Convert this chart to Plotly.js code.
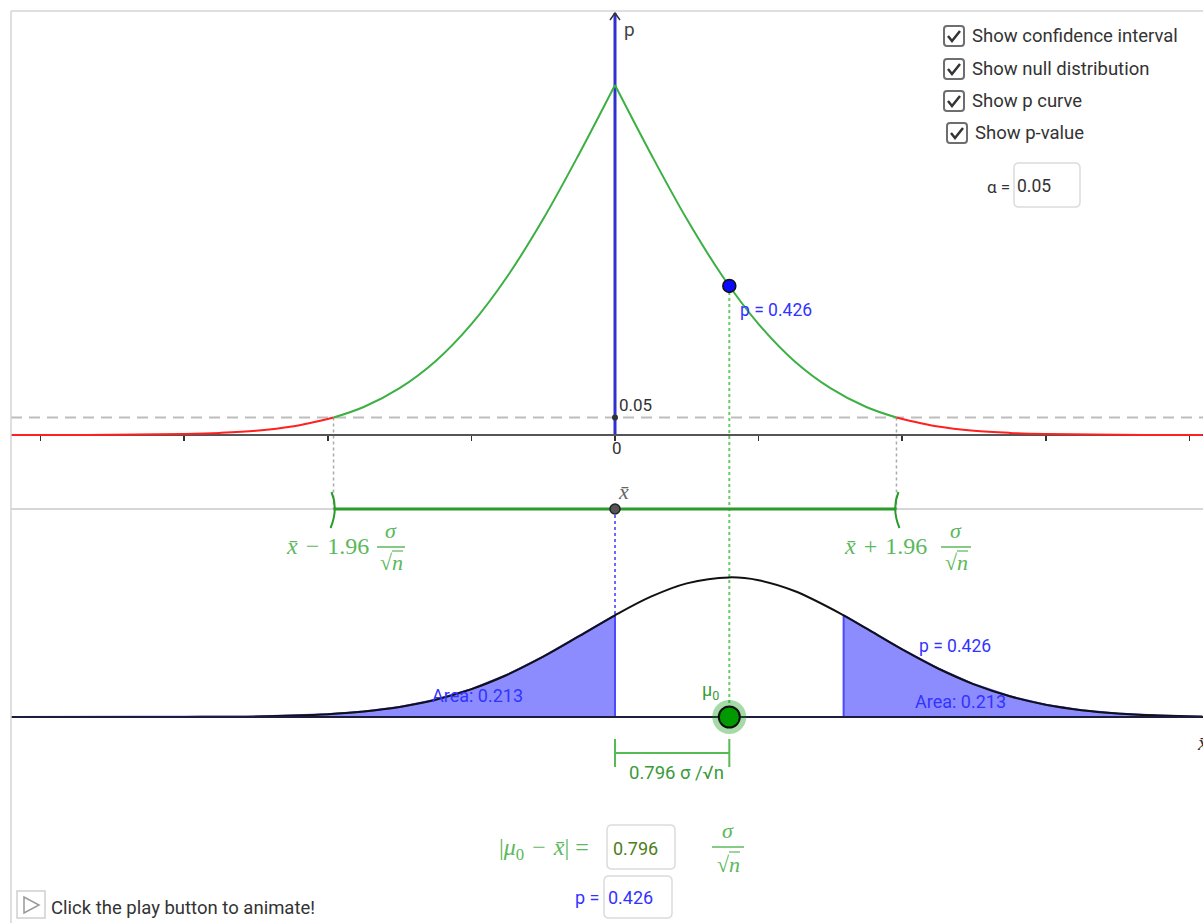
<!DOCTYPE html>
<html>
<head>
<meta charset="utf-8">
<script src="https://cdn.plot.ly/plotly-3.0.1.min.js"></script>
<style>
html, body { margin: 0; padding: 0; background: #fff; }
#chart { width: 1203px; height: 923px; }
</style>
</head>
<body>
<div id="chart"></div>
<script>
var xbar = 0;
var zCrit = 1.96;
var mu0Dist = 0.796;
var pValue = 0.426;
var alpha = 0.05;
var tailArea = 0.213;

// p curve (two-sided p value against distance)
var pCurveX = [-4.2, -4, -3.5, -3, -2.75, -2.5, -2.25, -1.96, -1.75, -1.5, -1.25, -1, -0.75, -0.5, -0.25, 0,
               0.25, 0.5, 0.75, 1, 1.25, 1.5, 1.75, 1.96, 2.25, 2.5, 2.75, 3, 3.5, 4, 4.09];
var pCurveP = [0.00003, 0.0001, 0.0005, 0.003, 0.006, 0.012, 0.024, 0.050, 0.080, 0.134, 0.211, 0.317, 0.453, 0.617, 0.803, 1.000,
               0.803, 0.617, 0.453, 0.317, 0.211, 0.134, 0.080, 0.050, 0.024, 0.012, 0.006, 0.003, 0.0005, 0.0001, 0.00005];

// null distribution, centred on mu0
var nullX = [-4.2, -3.5, -3, -2.5, -2, -1.75, -1.5, -1.25, -1, -0.75, -0.5, -0.25, 0, 0.25, 0.5, 0.796,
             1, 1.25, 1.592, 1.75, 2, 2.25, 2.5, 2.75, 3, 3.25, 3.5, 3.75, 4.09];
var nullDensity = [0.0000, 0.0000, 0.0003, 0.0017, 0.0080, 0.0156, 0.0286, 0.0492, 0.0795, 0.1208, 0.1723, 0.2308, 0.2906, 0.3437, 0.3818, 0.3989,
                   0.3907, 0.3599, 0.2906, 0.2531, 0.1932, 0.1386, 0.0934, 0.0591, 0.0352, 0.0196, 0.0103, 0.0051, 0.0017];

var checkboxLabels = ['Show confidence interval', 'Show null distribution', 'Show p curve', 'Show p-value'];

// ---- geometry of the graphics view
var W = 1203, H = 923, ML = 11, MT = 11;
var pxPerX = 143.6, pxPerY = 350;
var originPx = 615, originPy = 435;
var xRange = [(ML - originPx) / pxPerX, (W - originPx) / pxPerX];
var yRange = [(originPy - H) / pxPerY, (originPy - MT) / pxPerY];
var ciLevel = (originPy - 509) / pxPerY;
var nullBase = (originPy - 717) / pxPerY;
var barLevel = (originPy - 753) / pxPerY;

function X(px) { return (px - ML) / (W - ML); }
function Y(py) { return (H - py) / (H - MT); }
function dx(px) { return px / pxPerX; }
function dy(py) { return py / pxPerY; }

var green = '#3cb043', ciGreen = '#2a9a2a', labelGreen = '#5cb85c', blue = '#3333ff';
var sans = 'Roboto, "Open Sans", sans-serif';
var serif = '"Liberation Serif", "DejaVu Serif", serif';
var sp = '\u2004';

// ---- p curve split into red tails and green middle (cusp kept at x-bar)
var tailX = [], tailY = [], midX = [], midY = [];
pCurveX.forEach(function (x, i) { if (x <= -zCrit) { tailX.push(x); tailY.push(pCurveP[i]); } });
tailX.push(null); tailY.push(null);
pCurveX.forEach(function (x, i) { if (x >= zCrit) { tailX.push(x); tailY.push(pCurveP[i]); } });
pCurveX.forEach(function (x, i) { if (x >= -zCrit && x <= xbar) { midX.push(x); midY.push(pCurveP[i]); } });
midX.push(null); midY.push(null);
pCurveX.forEach(function (x, i) { if (x >= xbar && x <= zCrit) { midX.push(x); midY.push(pCurveP[i]); } });

// ---- null curve and shaded tails
var nullY = nullDensity.map(function (d) { return nullBase + d; });
var mirror = 2 * mu0Dist - xbar;
var leftX = [nullX[0]], leftY = [nullBase];
var rightX = [mirror], rightY = [nullBase];
nullX.forEach(function (x, i) {
  if (x <= xbar) { leftX.push(x); leftY.push(nullY[i]); }
  if (x >= mirror) { rightX.push(x); rightY.push(nullY[i]); }
});
leftX.push(xbar); leftY.push(nullBase);
rightX.push(nullX[nullX.length - 1]); rightY.push(nullBase);
var densityAtXbar = nullDensity[nullX.indexOf(xbar)];

var data = [
  { x: leftX, y: leftY, mode: 'lines', fill: 'toself', fillcolor: '#8c8cff', line: { color: '#4a4aff', width: 2 } },
  { x: rightX, y: rightY, mode: 'lines', fill: 'toself', fillcolor: '#8c8cff', line: { color: '#4a4aff', width: 2 } },
  { x: nullX, y: nullY, mode: 'lines', line: { color: '#111', width: 2, shape: 'spline' } },
  { x: xRange, y: [nullBase, nullBase], mode: 'lines', line: { color: '#1c1c3c', width: 2 } },
  { x: tailX, y: tailY, mode: 'lines', connectgaps: false, line: { color: '#ff2020', width: 2, shape: 'spline' } },
  { x: midX, y: midY, mode: 'lines', connectgaps: false, line: { color: green, width: 2, shape: 'spline' } },
  { x: [xbar - zCrit, xbar + zCrit], y: [ciLevel, ciLevel], mode: 'lines', line: { color: ciGreen, width: 3 } },
  { x: [xbar, xbar + mu0Dist], y: [barLevel, barLevel], mode: 'lines+markers',
    line: { color: '#55bb55', width: 2 }, marker: { symbol: 'line-ns-open', size: 20, line: { color: '#55bb55', width: 2 } } },
  { x: [xbar], y: [alpha], mode: 'markers', marker: { size: 6, color: '#333' } },
  { x: [xbar], y: [ciLevel], mode: 'markers', marker: { size: 10, color: '#555', line: { color: '#222', width: 1.5 } } },
  { x: [xbar + mu0Dist], y: [pValue], mode: 'markers', marker: { size: 13, color: '#0a0aff', line: { color: '#111', width: 1.5 } } },
  { x: [xbar + mu0Dist], y: [nullBase], mode: 'markers', marker: { size: 34, color: 'rgba(0,150,0,0.35)' } },
  { x: [xbar + mu0Dist], y: [nullBase], mode: 'markers', marker: { size: 21, color: '#009900', line: { color: '#111', width: 2 } } }
];

// ---- helpers for the widget decorations
function rrect(x0, y0, x1, y1, r) {
  return 'M' + X(x0 + r) + ',' + Y(y0) + ' L' + X(x1 - r) + ',' + Y(y0) +
    ' Q' + X(x1) + ',' + Y(y0) + ' ' + X(x1) + ',' + Y(y0 + r) +
    ' L' + X(x1) + ',' + Y(y1 - r) + ' Q' + X(x1) + ',' + Y(y1) + ' ' + X(x1 - r) + ',' + Y(y1) +
    ' L' + X(x0 + r) + ',' + Y(y1) + ' Q' + X(x0) + ',' + Y(y1) + ' ' + X(x0) + ',' + Y(y1 - r) +
    ' L' + X(x0) + ',' + Y(y0 + r) + ' Q' + X(x0) + ',' + Y(y0) + ' ' + X(x0 + r) + ',' + Y(y0) + ' Z';
}
function pline(pts) {
  return pts.map(function (p, i) { return (i ? 'L' : 'M') + X(p[0]) + ',' + Y(p[1]); }).join(' ');
}
function hline(x0, x1, py, color, width) {
  return { type: 'line', xref: 'paper', yref: 'paper', x0: X(x0), x1: X(x1), y0: Y(py), y1: Y(py), line: { color: color, width: width } };
}
function bracket(x, dir) {
  // GeoGebra style interval end, bulging outwards
  return { type: 'path', xref: 'x', yref: 'y', line: { color: ciGreen, width: 2 },
    path: 'M' + (x - dir * dx(2)) + ',' + (ciLevel + dy(17)) + ' Q' + (x + dir * dx(5)) + ',' + ciLevel + ' ' + (x - dir * dx(3)) + ',' + (ciLevel - dy(19)) };
}

var shapes = [
  { type: 'line', xref: 'paper', yref: 'paper', x0: 0, x1: 0, y0: 0, y1: 1, line: { color: '#d4d4d4', width: 1.5 } },
  { type: 'line', xref: 'paper', yref: 'paper', x0: 0, x1: 1, y0: 1, y1: 1, line: { color: '#d4d4d4', width: 1.5 } },
  { type: 'line', layer: 'below', xref: 'paper', yref: 'y', x0: 0, x1: 1, y0: alpha, y1: alpha, line: { color: '#bdbdbd', width: 2, dash: '11px,7px' } },
  { type: 'line', layer: 'below', xref: 'paper', yref: 'y', x0: 0, x1: 1, y0: ciLevel, y1: ciLevel, line: { color: '#c8c8c8', width: 1.5 } },
  { type: 'line', layer: 'below', xref: 'x', yref: 'y', x0: xbar, x1: xbar, y0: 0, y1: yRange[1] - dy(2), line: { color: '#3030d0', width: 3 } },
  { type: 'path', xref: 'paper', yref: 'paper', path: pline([[610, 20], [615, 13], [620, 20]]), line: { color: '#333', width: 1.5 } },
  { type: 'line', layer: 'below', xref: 'x', yref: 'y', x0: -zCrit, x1: -zCrit, y0: alpha, y1: ciLevel, line: { color: '#aaa', width: 1.5, dash: 'dot' } },
  { type: 'line', layer: 'below', xref: 'x', yref: 'y', x0: zCrit, x1: zCrit, y0: alpha, y1: ciLevel, line: { color: '#aaa', width: 1.5, dash: 'dot' } },
  { type: 'line', layer: 'below', xref: 'x', yref: 'y', x0: xbar, x1: xbar, y0: ciLevel, y1: nullBase + densityAtXbar, line: { color: '#6a6aff', width: 2, dash: 'dot' } },
  { type: 'line', layer: 'below', xref: 'x', yref: 'y', x0: xbar + mu0Dist, x1: xbar + mu0Dist, y0: pValue, y1: nullBase, line: { color: '#66cc66', width: 2, dash: 'dot' } },
  bracket(xbar - zCrit, 1),
  bracket(xbar + zCrit, -1),
  // fraction bars of the LaTeX labels
  hline(377, 405, 547, labelGreen, 1.5),
  hline(941, 971, 547, labelGreen, 1.5),
  hline(712, 744, 847, labelGreen, 1.5),
  // radical overbars
  hline(392, 403, 551, labelGreen, 1.2),
  hline(957, 968, 551, labelGreen, 1.2),
  hline(729, 740, 852, labelGreen, 1.2),
  // input boxes
  { type: 'path', xref: 'paper', yref: 'paper', path: rrect(1014, 163, 1080, 207, 5), line: { color: '#dcdcdc', width: 1.5 }, fillcolor: '#fff' },
  { type: 'path', xref: 'paper', yref: 'paper', path: rrect(607, 825, 675, 869, 5), line: { color: '#dcdcdc', width: 1.5 }, fillcolor: '#fff' },
  { type: 'path', xref: 'paper', yref: 'paper', path: rrect(604, 876, 672, 918, 5), line: { color: '#dcdcdc', width: 1.5 }, fillcolor: '#fff' },
  // play button
  { type: 'rect', xref: 'paper', yref: 'paper', x0: X(17), x1: X(45), y0: Y(891), y1: Y(918), line: { color: '#cfcfcf', width: 1.5 } },
  { type: 'path', xref: 'paper', yref: 'paper', path: pline([[24, 897], [24, 913], [39, 905]]) + ' Z', line: { color: '#999', width: 1.5 } }
];

var annotations = [];
function label(text, px, py, opts) {
  var a = { text: text, xref: 'paper', yref: 'paper', x: X(px), y: Y(py), showarrow: false,
    xanchor: 'left', yanchor: 'middle', font: { family: sans, size: 18, color: '#333' } };
  for (var k in opts) a[k] = opts[k];
  annotations.push(a);
}

var boxes = [[944, 26], [944, 59], [944, 91], [947, 123]];
checkboxLabels.forEach(function (t, i) {
  var bx = boxes[i][0], by = boxes[i][1];
  shapes.push({ type: 'path', xref: 'paper', yref: 'paper', path: rrect(bx, by, bx + 20, by + 20, 3), line: { color: '#6e6e6e', width: 2 }, fillcolor: '#fff' });
  shapes.push({ type: 'path', xref: 'paper', yref: 'paper', path: pline([[bx + 4, by + 10], [bx + 8, by + 15], [bx + 16, by + 5]]), line: { color: '#333', width: 2.5 } });
  label(t, bx + 26, by + 10, { font: { family: sans, size: 18.5, color: '#333' } });
});

label('α =', 1012, 187, { xanchor: 'right', font: { family: sans, size: 17, color: '#333' } });
label(String(alpha), 1015, 186, { font: { family: sans, size: 17.5, color: '#333' } });

label('p', 622, 29, { font: { family: sans, size: 19, color: '#444' } });
label(String(alpha), 617, 405, { font: { family: sans, size: 17, color: '#333' } });
label('0', 617, 448, { xanchor: 'center', font: { family: sans, size: 17, color: '#333' } });
label('p = ' + pValue, 738, 310, { font: { family: sans, size: 17.5, color: blue } });

label('<i>x̄</i>', 623, 491, { xanchor: 'center', font: { family: serif, size: 22, color: '#666' } });
label('<i>x̄</i>' + sp + '−' + sp + zCrit, 371, 546, { xanchor: 'right', font: { family: serif, size: 24, color: labelGreen } });
label('<i>σ</i>', 391, 530, { xanchor: 'center', font: { family: serif, size: 22, color: labelGreen } });
label('√<i>n</i>', 391, 562, { xanchor: 'center', font: { family: serif, size: 22, color: labelGreen } });
label('<i>x̄</i>' + sp + '+' + sp + zCrit, 929, 546, { xanchor: 'right', font: { family: serif, size: 24, color: labelGreen } });
label('<i>σ</i>', 956, 530, { xanchor: 'center', font: { family: serif, size: 22, color: labelGreen } });
label('√<i>n</i>', 956, 562, { xanchor: 'center', font: { family: serif, size: 22, color: labelGreen } });

label('p = ' + pValue, 955, 646, { xanchor: 'center', font: { family: sans, size: 17.5, color: blue } });
label('Area: ' + tailArea, 477, 695, { xanchor: 'center', font: { family: sans, size: 18, color: blue } });
label('Area: ' + tailArea, 960, 701, { xanchor: 'center', font: { family: sans, size: 18, color: blue } });
label('μ<sub>0</sub>', 710, 691, { xanchor: 'center', font: { family: sans, size: 18, color: '#3a9a3a' } });
label(mu0Dist + ' σ /√n', 676, 773, { xanchor: 'center', font: { family: sans, size: 18.5, color: '#3a9a3a' } });
label('<i>x̄</i>', 1195, 742, { font: { family: serif, size: 22, color: '#333' } });

label('|<i>μ</i><sub>0</sub>' + sp + '−' + sp + '<i>x̄</i>| =', 591, 849, { xanchor: 'right', font: { family: serif, size: 24, color: labelGreen } });
label(String(mu0Dist), 611, 848, { font: { family: sans, size: 18, color: '#4d7d1d' } });
label('<i>σ</i>', 728, 830, { xanchor: 'center', font: { family: serif, size: 22, color: labelGreen } });
label('√<i>n</i>', 728, 864, { xanchor: 'center', font: { family: serif, size: 22, color: labelGreen } });
label('p =', 601, 897, { xanchor: 'right', font: { family: sans, size: 18, color: blue } });
label(String(pValue), 606, 897, { font: { family: sans, size: 18, color: blue } });
label('Click the play button to animate!', 49, 908, { font: { family: sans, size: 18.5, color: '#333' } });

var layout = {
  width: W,
  height: H,
  margin: { l: ML, r: 0, t: MT, b: 0, pad: 0 },
  paper_bgcolor: '#fff',
  plot_bgcolor: '#fff',
  showlegend: false,
  xaxis: {
    range: xRange,
    anchor: 'free',
    position: Y(originPy),
    showline: true, linecolor: '#555', linewidth: 2,
    ticks: 'outside', ticklen: 5, tickwidth: 1.5, tickcolor: '#333',
    tickmode: 'linear', tick0: 0, dtick: 1,
    showticklabels: false, showgrid: false, zeroline: false,
    layer: 'below traces'
  },
  yaxis: { range: yRange, visible: false, showgrid: false, zeroline: false },
  shapes: shapes,
  annotations: annotations
};

Plotly.newPlot('chart', data, layout, { staticPlot: true, displayModeBar: false });
</script>
</body>
</html>
